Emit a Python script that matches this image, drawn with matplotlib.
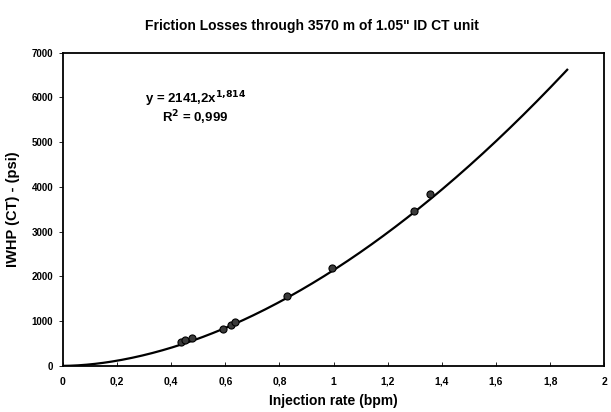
import numpy as np
import matplotlib.pyplot as plt
from matplotlib.ticker import FuncFormatter

# measured injection rate (bpm) vs. wellhead pressure (psi)
rate = [0.436, 0.451, 0.477, 0.591, 0.621, 0.636, 0.828, 0.994, 1.298, 1.357]
iwhp = [537, 581, 626, 827, 917, 984, 1566, 2192, 3466, 3847]

# power-law fit
coef_a = 2141.2
coef_b = 1.814
r2 = 0.999
fit_max = 1.863

x_ticks = [0, 0.2, 0.4, 0.6, 0.8, 1.0, 1.2, 1.4, 1.6, 1.8, 2.0]
y_ticks = [0, 1000, 2000, 3000, 4000, 5000, 6000, 7000]

plt.rcParams['font.family'] = ['Liberation Sans', 'DejaVu Sans']

fig = plt.figure(figsize=(6.11, 4.12), dpi=100)
ax = fig.add_axes([0.103, 0.112, 0.886, 0.760])

xf = np.linspace(0, fit_max, 300)
ax.plot(xf, coef_a * xf ** coef_b, color='black', lw=1.6, zorder=2)
ax.scatter(rate, iwhp, s=26, color='#3a3a3a', edgecolors='black', linewidths=0.8, zorder=3)

ax.set_xlim(0, 2)
ax.set_ylim(0, 7000)
ax.set_xticks(x_ticks)
ax.set_yticks(y_ticks)

def comma_fmt(v, pos):
    s = ('%.1f' % v).rstrip('0').rstrip('.')
    return s.replace('.', ',')

ax.xaxis.set_major_formatter(FuncFormatter(comma_fmt))
ax.tick_params(axis='x', direction='in', length=3, width=0.6, labelsize=7.5, pad=8)
ax.tick_params(axis='y', direction='out', length=3, width=0.6, labelsize=7, pad=4)
for lab in ax.get_xticklabels() + ax.get_yticklabels():
    lab.set_fontweight('bold')

for sp in ax.spines.values():
    sp.set_linewidth(1.3)
    sp.set_color('black')

ax.set_xlabel('Injection rate (bpm)', fontsize=10, fontweight='bold', labelpad=5)
ax.set_ylabel('IWHP (CT) - (psi)', fontsize=10.5, fontweight='bold', labelpad=8)
fig.suptitle('Friction Losses through 3570 m of 1.05" ID CT unit',
             x=0.51, y=0.955, fontsize=10, fontweight='bold')

eq = 'y = %sx$^{\\mathbf{%s}}$' % (str(coef_a).replace('.', ','), str(coef_b).replace('.', '{,}'))
ax.text(0.49, 5970, eq, fontsize=9.5, fontweight='bold', ha='center', va='center')
ax.text(0.49, 5540, 'R$^{\\mathbf{2}}$ = ' + str(r2).replace('.', ','),
        fontsize=9.5, fontweight='bold', ha='center', va='center')

fig.savefig('out.png', dpi=100)
